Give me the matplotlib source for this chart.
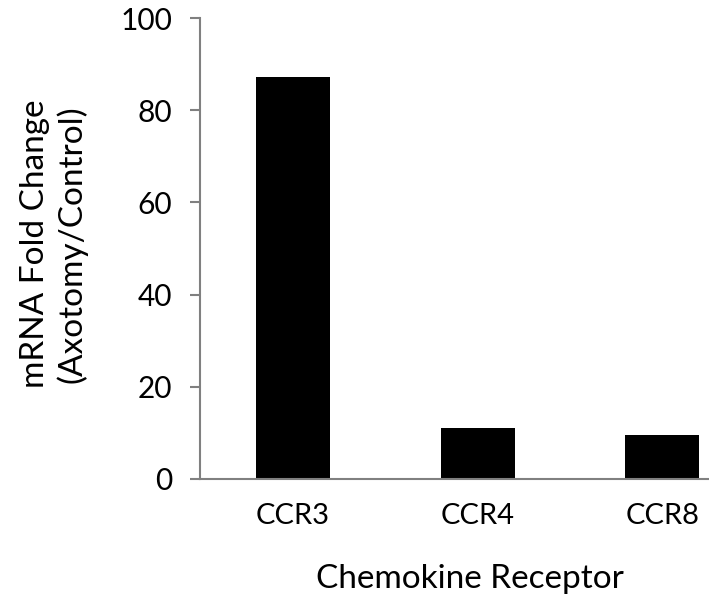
import matplotlib
matplotlib.use('Agg')
import matplotlib.pyplot as plt

receptors = ['CCR3', 'CCR4', 'CCR8']
fold_change = [87.2, 11.0, 9.5]
y_ticks = [0, 20, 40, 60, 80, 100]

plt.rcParams['font.family'] = ['Lato', 'DejaVu Sans']

fig = plt.figure(figsize=(7.09, 6.02), dpi=100)
# axes runs past the right edge like the original (cropped) figure
ax = fig.add_axes([200 / 709, 1 - 479 / 602, 555 / 709, 461 / 602])

ax.bar(range(len(receptors)), fold_change, width=0.4, color='black')
ax.set_xlim(-0.5, 2.5)
ax.set_ylim(0, 100)
ax.set_yticks(y_ticks)
ax.set_xticks(range(len(receptors)))
ax.set_xticklabels(receptors)

for s in ['top', 'right']:
    ax.spines[s].set_visible(False)
for s in ['left', 'bottom']:
    ax.spines[s].set_color('#808080')
    ax.spines[s].set_linewidth(1.5)

ax.tick_params(axis='y', length=7, width=1.5, color='#808080', labelsize=21.5, pad=13)
ax.tick_params(axis='x', length=0, labelsize=21, pad=17)

ax.set_xlabel('Chemokine Receptor', fontsize=24)
ax.xaxis.set_label_coords((470 - 200) / 555, -0.185)
ax.set_ylabel('mRNA Fold Change\n(Axotomy/Control)', fontsize=24, linespacing=1.2)
ax.yaxis.set_label_coords((87 - 200) / 555, 0.51)

fig.savefig('out.png', dpi=100)
